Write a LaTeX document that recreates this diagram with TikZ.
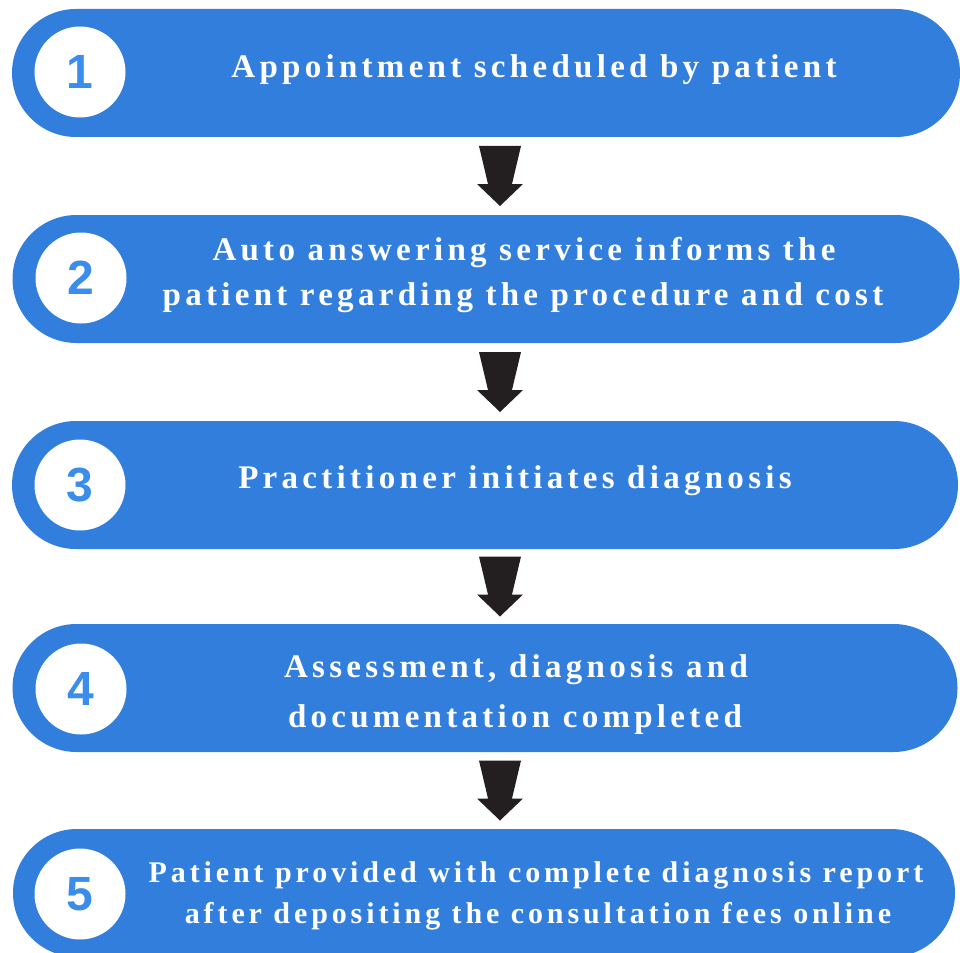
\documentclass[tikz,border=0pt]{standalone}
\usepackage{fontspec}
\usetikzlibrary{calc}
\newfontfamily\plainserif{Liberation Serif}
\newfontfamily\barfont{Liberation Serif}[LetterSpace=13]
\newfontfamily\numfont{Liberation Sans}
\definecolor{barblue}{HTML}{317EDC}
\definecolor{numblue}{HTML}{3A8DEA}
\definecolor{arrowblack}{HTML}{231F20}
\begin{document}
\begin{tikzpicture}[x=1pt,y=-1pt,
  stepbar/.style={fill=barblue, rounded corners=64pt, minimum height=128pt, inner sep=0pt},
  numcirc/.style={circle, fill=white, minimum size=91pt, inner sep=0pt, text=numblue,
    font=\fontsize{48}{48}\numfont\bfseries},
  bartext/.style={text=white, anchor=base, inner sep=0pt,
    font=\fontsize{33}{40}\barfont\bfseries},
  bartextsmall/.style={bartext, font=\fontsize{30}{36}\barfont\bfseries},
  blockarrow/.pic={\fill[arrowblack] (-21,-30) -- (21,-30) -- (12,8) -- (23,8) -- (0,30) -- (-23,8) -- (-12,8) -- cycle;}
  ]
\useasboundingbox (0,0) rectangle (960,952);
\fill[white] (0,0) rectangle (960,952);
% bars
\node[stepbar, minimum width=948pt] (b1) at (486,73) {};
\node[stepbar, minimum width=947pt] (b2) at (486,279) {};
\node[stepbar, minimum width=946pt] (b3) at (485,485) {};
\node[stepbar, minimum width=945pt] (b4) at (485,688) {};
\node[stepbar, minimum width=942pt] (b5) at (484,893) {};
% texts
\node[bartext] (t1) at (534,78) {Appointment scheduled by patient};
\node[bartext] (t2a) at (524,260) {Auto answering service informs the};
\node[bartext] (t2b) at (523,305) {patient regarding the procedure and cost};
\node[bartext] (t3) at (515,488) {Practitioner initiates diagnosis};
\node[bartext] (t4a) at (516,677) {Assessment, diagnosis and};
\node[bartext] (t4b) at (515,727) {documentation completed};
\node[bartextsmall] (t5a) at (536,882) {Patient provided with complete diagnosis report};
\node[bartextsmall] (t5b) at (538,923) {after depositing the consultation fees online};
% number circles
\node[numcirc] (c1) at (80,72) {1};
\node[numcirc] (c2) at (81,278) {2};
\node[numcirc] (c3) at (80,485) {3};
\node[numcirc] (c4) at (81,689) {4};
\node[numcirc] (c5) at (80,894) {5};
% arrows
\coordinate (ax) at (500,0);
\pic at ($(b1.south-|ax)!0.5!(b2.north-|ax)$) {blockarrow};
\pic at ($(b2.south-|ax)!0.5!(b3.north-|ax)$) {blockarrow};
\pic at ($(b3.south-|ax)!0.5!(b4.north-|ax)$) {blockarrow};
\pic at ($(b4.south-|ax)!0.5!(b5.north-|ax)$) {blockarrow};
\end{tikzpicture}
\end{document}
